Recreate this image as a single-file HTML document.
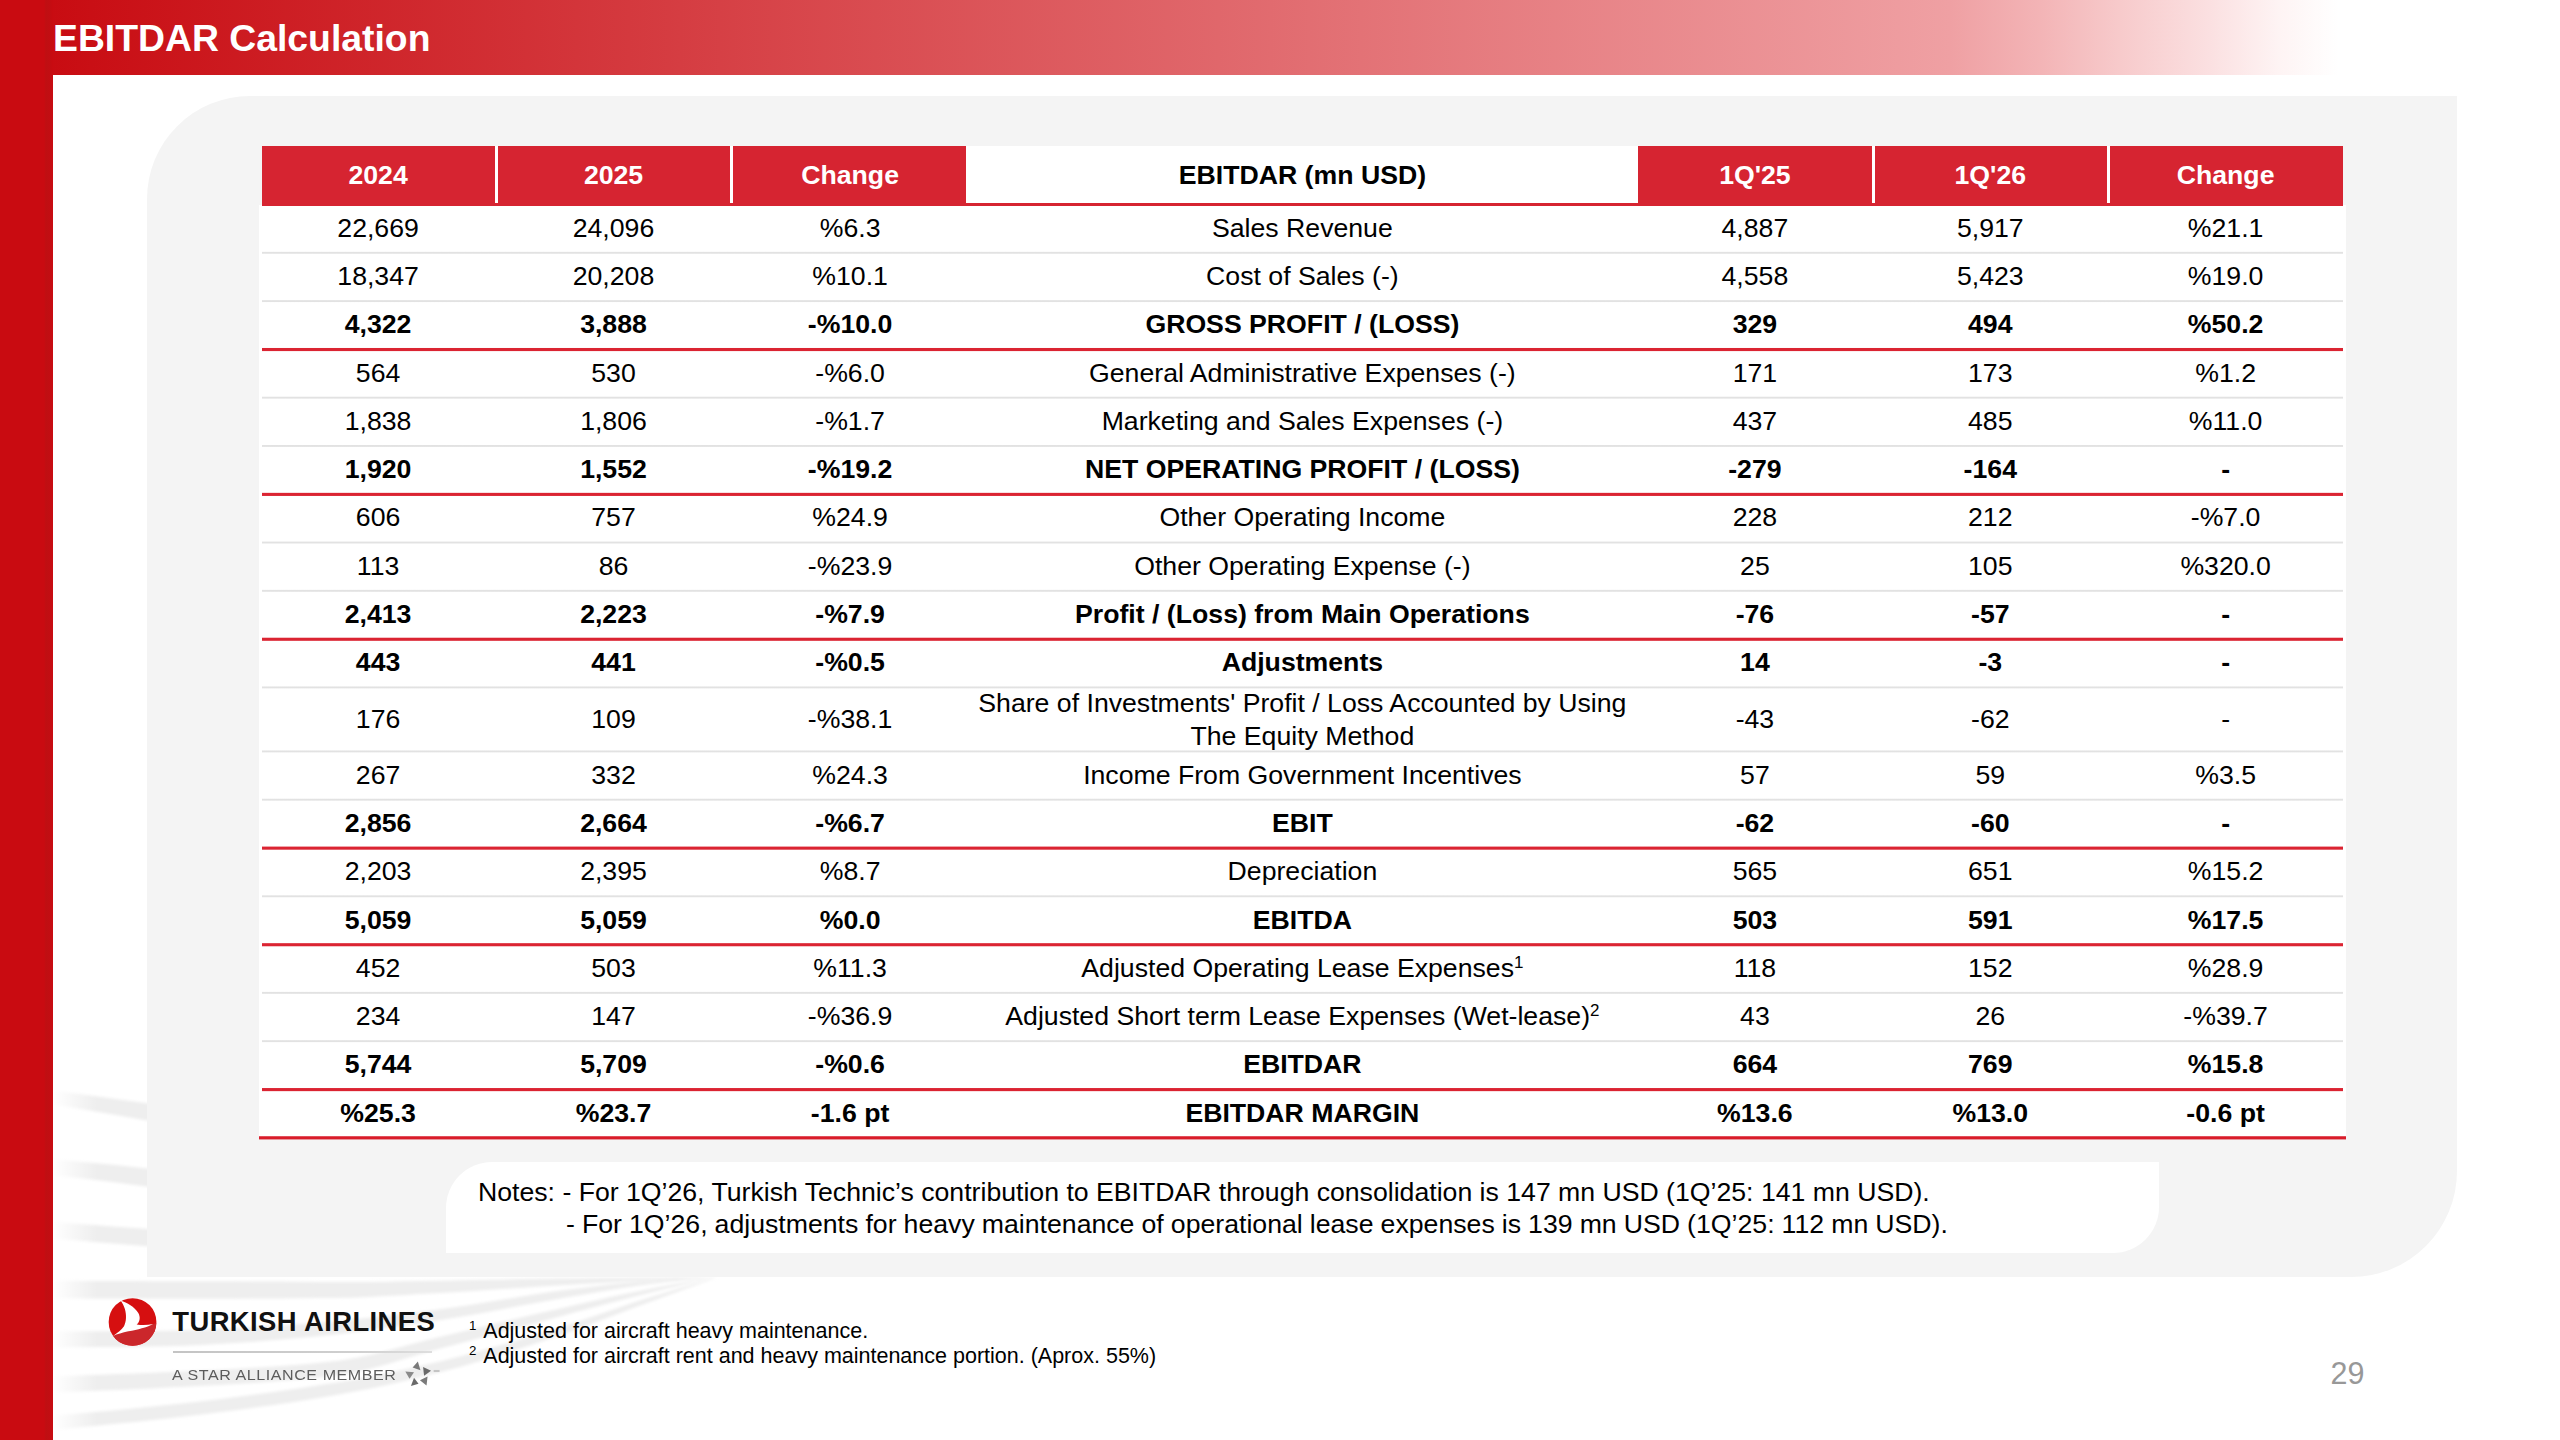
<!DOCTYPE html>
<html lang="en">
<head>
<meta charset="utf-8">
<title>EBITDAR Calculation</title>
<style>
html,body{margin:0;padding:0;}
body{width:2560px;height:1440px;overflow:hidden;background:#fff;position:relative;font-family:"Liberation Sans",sans-serif;color:#000;}
div,span{box-sizing:border-box;}
.abs{position:absolute;}
#banner{position:absolute;left:0;top:0;width:2560px;height:75.3px;background:linear-gradient(90deg,#c80b11 0px,#c80b11 40px,#efa0a3 1950px,#f3b4b6 2040px,#f7cacb 2120px,#fbe0e1 2210px,#fef4f4 2280px,#ffffff 2338px);}
#lbar{position:absolute;left:0;top:0;width:53.2px;height:1440px;background:linear-gradient(90deg,#c90b11 0,#c90b11 44px,#bf0f12 46px,#c30d12 50px,#c90b11 53px);}
#title{position:absolute;left:53px;top:15px;font-size:37.33px;font-weight:bold;color:#fff;white-space:nowrap;line-height:46px;}
#panel{position:absolute;left:147.4px;top:96.2px;width:2310px;height:1180.6px;background:#f4f4f4;border-radius:103px 0 106px 0;}
.h{position:absolute;z-index:2;top:146.2px;height:59.7px;background:#d62431;color:#fff;font-weight:bold;font-size:26.67px;line-height:58px;text-align:center;white-space:nowrap;}
.h.hw{background:#fff;color:#000;border-bottom:3.3px solid #d62431;}
.vs{position:absolute;z-index:3;top:146.2px;height:56.6px;width:3px;background:#fff;}
#tbg{position:absolute;left:259px;width:2087px;background:#fff;}
.row{position:absolute;left:0;width:2560px;font-size:26.67px;white-space:nowrap;}
.row.b{font-weight:bold;}
.c{position:absolute;top:0;height:100%;display:flex;align-items:center;justify-content:center;text-align:center;line-height:32.2px;padding-bottom:1.6px;}
.c.two{padding-bottom:0;padding-top:0.4px;}
.c sup{font-size:17px;line-height:0;position:relative;top:-5px;vertical-align:baseline;align-self:center;}
.ln{position:absolute;}
.lg{position:absolute;left:262px;width:2081px;height:1.9px;background:#dfdfdf;}
.lr{position:absolute;left:262px;width:2081px;height:3.3px;background:#d9202e;}
#notes{position:absolute;left:445.6px;top:1161.8px;width:1713.4px;height:91px;background:#fff;border-radius:46px 0 46px 0;font-size:26.67px;line-height:32.2px;white-space:nowrap;}
#notes span{position:absolute;display:block;}
#notes .n1{left:32.4px;top:14.4px;word-spacing:-0.04px;}
#notes .n2{left:120.4px;top:46.6px;word-spacing:-0.33px;}
#foot{position:absolute;left:469px;top:1318.6px;font-size:21.5px;line-height:25.65px;white-space:nowrap;}
#foot sup{font-size:13.3px;line-height:0;position:relative;top:0.1px;vertical-align:super;display:inline-block;width:9.5px;}
#pg{position:absolute;left:2330.6px;top:1355.1px;font-size:30.5px;color:#989898;line-height:36px;}
#lgt{position:absolute;left:172.3px;top:1306.3px;font-size:27.4px;font-weight:bold;line-height:32px;letter-spacing:0.42px;color:#111;white-space:nowrap;}
#lgl{position:absolute;left:172.5px;top:1350.7px;width:259.5px;height:2px;background:linear-gradient(90deg,#c4c4c4,#cfcfcf 70%,#dedede);}
#lgs{position:absolute;left:172px;top:1366.9px;font-size:14px;line-height:17px;letter-spacing:0.5px;color:#5c5c5c;white-space:nowrap;transform:scaleX(1.146);transform-origin:0 0;}
</style>
</head>
<body>
<svg id="swoosh" width="800" height="400" viewBox="0 1050 800 400" style="position:absolute;left:0;top:1050px">
<defs><filter id="bl" x="-5%" y="-5%" width="110%" height="110%"><feGaussianBlur stdDeviation="1.6"/></filter>
<linearGradient id="lf" x1="0" x2="1" y1="0" y2="0"><stop offset="0" stop-color="#fff" stop-opacity="1"/><stop offset="0.25" stop-color="#fff" stop-opacity="0.75"/><stop offset="1" stop-color="#fff" stop-opacity="0"/></linearGradient></defs>
<g fill="#eeeeee" filter="url(#bl)">
<path d="M50.0,1280.8 L66.8,1280.8 L83.6,1280.9 L100.4,1281.0 L117.2,1281.0 L134.0,1281.1 L150.8,1281.2 L167.6,1281.2 L184.4,1281.2 L201.2,1281.3 L217.9,1281.3 L234.7,1281.3 L251.5,1281.4 L268.3,1281.5 L285.1,1281.6 L301.9,1281.7 L318.7,1281.9 L335.5,1282.0 L352.3,1282.0 L369.1,1281.9 L385.9,1281.7 L402.7,1281.3 L419.5,1281.0 L436.3,1280.7 L453.1,1280.5 L469.9,1280.1 L486.7,1279.8 L503.5,1279.5 L520.3,1279.1 L537.1,1278.8 L553.8,1278.6 L570.6,1278.4 L587.4,1278.2 L604.2,1278.1 L621.0,1277.9 L637.8,1277.8 L654.6,1277.7 L671.4,1277.5 L688.2,1277.4 L705.0,1277.2 L705.0,1277.8 L688.2,1278.5 L671.4,1279.3 L654.6,1280.1 L637.8,1280.9 L621.0,1281.8 L604.2,1282.8 L587.4,1283.7 L570.6,1284.7 L553.8,1285.7 L537.1,1286.8 L520.3,1287.9 L503.5,1289.0 L486.7,1290.1 L469.9,1291.2 L453.1,1292.2 L436.3,1293.2 L419.5,1294.1 L402.7,1295.2 L385.9,1296.1 L369.1,1297.0 L352.3,1297.7 L335.5,1298.0 L318.7,1298.1 L301.9,1298.3 L285.1,1298.4 L268.3,1298.5 L251.5,1298.6 L234.7,1298.7 L217.9,1298.7 L201.2,1298.7 L184.4,1298.7 L167.6,1298.7 L150.8,1298.7 L134.0,1298.6 L117.2,1298.5 L100.4,1298.5 L83.6,1298.4 L66.8,1298.3 L50.0,1298.2Z"/>
<path d="M50.0,1331.5 L66.8,1331.4 L83.6,1331.3 L100.4,1331.2 L117.2,1331.1 L134.0,1331.0 L150.8,1330.9 L167.6,1330.7 L184.4,1330.4 L201.2,1329.8 L217.9,1329.1 L234.7,1328.2 L251.5,1327.2 L268.3,1326.1 L285.1,1325.0 L301.9,1323.9 L318.7,1322.6 L335.5,1321.2 L352.3,1319.5 L369.1,1317.8 L385.9,1315.9 L402.7,1314.0 L419.5,1311.9 L436.3,1309.8 L453.1,1307.6 L469.9,1305.0 L486.7,1302.3 L503.5,1299.5 L520.3,1296.7 L537.1,1294.0 L553.8,1291.6 L570.6,1289.3 L587.4,1287.2 L604.2,1285.1 L621.0,1283.3 L637.8,1281.7 L654.6,1280.4 L671.4,1279.3 L688.2,1278.3 L705.0,1277.2 L705.0,1277.8 L688.2,1279.7 L671.4,1281.6 L654.6,1283.6 L637.8,1285.8 L621.0,1288.3 L604.2,1291.0 L587.4,1293.9 L570.6,1296.8 L553.8,1299.7 L537.1,1302.7 L520.3,1305.8 L503.5,1309.0 L486.7,1312.2 L469.9,1315.2 L453.1,1318.1 L436.3,1320.8 L419.5,1323.3 L402.7,1325.7 L385.9,1328.1 L369.1,1330.4 L352.3,1332.5 L335.5,1334.5 L318.7,1336.3 L301.9,1337.8 L285.1,1339.2 L268.3,1340.6 L251.5,1341.9 L234.7,1343.1 L217.9,1344.1 L201.2,1345.0 L184.4,1345.7 L167.6,1346.2 L150.8,1346.5 L134.0,1346.7 L117.2,1346.9 L100.4,1347.0 L83.6,1347.2 L66.8,1347.3 L50.0,1347.5Z"/>
<path d="M50.0,1376.5 L67.0,1375.9 L83.9,1375.3 L100.9,1374.7 L117.9,1374.1 L134.9,1373.5 L151.8,1372.8 L168.8,1372.1 L185.8,1371.3 L202.8,1370.5 L219.7,1369.7 L236.7,1368.8 L253.7,1367.8 L270.7,1366.7 L287.6,1365.5 L304.6,1364.2 L321.6,1362.6 L338.6,1360.8 L355.5,1358.1 L372.5,1354.4 L389.5,1350.0 L406.5,1345.4 L423.4,1340.9 L440.4,1336.7 L457.4,1332.7 L474.4,1328.7 L491.3,1324.6 L508.3,1320.6 L525.3,1316.6 L542.3,1312.6 L559.2,1308.7 L576.2,1304.8 L593.2,1300.9 L610.2,1297.1 L627.1,1293.4 L644.1,1289.9 L661.1,1286.6 L678.1,1283.5 L695.0,1280.4 L712.0,1277.2 L712.0,1277.8 L695.0,1281.8 L678.1,1285.9 L661.1,1290.0 L644.1,1294.2 L627.1,1298.5 L610.2,1303.0 L593.2,1307.5 L576.2,1312.1 L559.2,1316.7 L542.3,1321.2 L525.3,1325.8 L508.3,1330.4 L491.3,1335.0 L474.4,1339.5 L457.4,1344.1 L440.4,1348.6 L423.4,1353.2 L406.5,1358.2 L389.5,1363.4 L372.5,1368.2 L355.5,1372.3 L338.6,1375.3 L321.6,1377.2 L304.6,1378.9 L287.6,1380.4 L270.7,1381.7 L253.7,1382.9 L236.7,1384.0 L219.7,1384.9 L202.8,1385.8 L185.8,1386.7 L168.8,1387.6 L151.8,1388.4 L134.9,1389.2 L117.9,1389.9 L100.9,1390.5 L83.9,1391.2 L67.0,1391.8 L50.0,1392.5Z"/>
<path d="M50.0,1416.0 L67.1,1414.4 L84.2,1412.9 L101.2,1411.4 L118.3,1409.9 L135.4,1408.3 L152.5,1406.6 L169.5,1404.8 L186.6,1402.9 L203.7,1400.9 L220.8,1398.9 L237.8,1396.7 L254.9,1394.5 L272.0,1392.2 L289.1,1389.8 L306.2,1387.3 L323.2,1384.6 L340.3,1381.9 L357.4,1378.9 L374.5,1375.6 L391.5,1372.2 L408.6,1368.5 L425.7,1364.7 L442.8,1360.7 L459.8,1356.4 L476.9,1351.8 L494.0,1347.1 L511.1,1342.2 L528.2,1337.1 L545.2,1331.9 L562.3,1326.7 L579.4,1321.1 L596.5,1315.3 L613.5,1309.4 L630.6,1303.6 L647.7,1298.0 L664.8,1292.7 L681.8,1287.6 L698.9,1282.4 L716.0,1277.2 L716.0,1277.8 L698.9,1284.0 L681.8,1290.2 L664.8,1296.4 L647.7,1302.7 L630.6,1309.0 L613.5,1315.5 L596.5,1322.0 L579.4,1328.4 L562.3,1334.5 L545.2,1340.3 L528.2,1345.9 L511.1,1351.5 L494.0,1356.8 L476.9,1362.0 L459.8,1366.9 L442.8,1371.5 L425.7,1375.8 L408.6,1380.0 L391.5,1383.9 L374.5,1387.7 L357.4,1391.1 L340.3,1394.3 L323.2,1397.2 L306.2,1400.0 L289.1,1402.7 L272.0,1405.2 L254.9,1407.6 L237.8,1409.9 L220.8,1412.1 L203.7,1414.2 L186.6,1416.3 L169.5,1418.2 L152.5,1420.1 L135.4,1421.9 L118.3,1423.6 L101.2,1425.2 L84.2,1426.8 L67.1,1428.4 L50.0,1430.0Z"/>
<path d="M50.0,1090.2 L72.0,1093.1 L94.0,1095.9 L116.0,1099.0 L138.0,1102.1 L160.0,1105.2 L160.0,1122.8 L138.0,1118.9 L116.0,1115.0 L94.0,1111.2 L72.0,1107.5 L50.0,1103.8Z"/>
<path d="M50.0,1159.2 L72.0,1161.1 L94.0,1162.9 L116.0,1165.1 L138.0,1167.4 L160.0,1169.8 L160.0,1188.2 L138.0,1185.4 L116.0,1182.5 L94.0,1179.8 L72.0,1177.2 L50.0,1174.8Z"/>
<path d="M50.0,1221.8 L72.0,1223.4 L94.0,1225.1 L116.0,1226.7 L138.0,1228.2 L160.0,1229.8 L160.0,1247.2 L138.0,1245.5 L116.0,1243.8 L94.0,1242.0 L72.0,1240.1 L50.0,1238.2Z"/>
</g>
<rect x="53" y="1050" width="44" height="400" fill="url(#lf)"/>
</svg>
<div id="panel"></div>
<div id="banner"></div>
<div id="lbar"></div>
<div id="title">EBITDAR Calculation</div>
<div class="h" style="left:262.0px;width:234.4px;text-indent:-2.2px">2024</div>
<div class="h" style="left:496.4px;width:235.2px;text-indent:-0.9px">2025</div>
<div class="h" style="left:731.6px;width:234.4px;text-indent:2.6px">Change</div>
<div class="h hw" style="left:966.0px;width:672.0px;text-indent:0.8px">EBITDAR (mn USD)</div>
<div class="h" style="left:1638.0px;width:235.0px;text-indent:-1.2px">1Q'25</div>
<div class="h" style="left:1873.0px;width:235.4px;text-indent:-0.8px">1Q'26</div>
<div class="h" style="left:2108.4px;width:234.6px;text-indent:-0.2px">Change</div>
<div class="vs" style="left:494.9px"></div>
<div class="vs" style="left:730.1px"></div>
<div class="vs" style="left:1871.5px"></div>
<div class="vs" style="left:2106.9px"></div>
<div id="tbg" style="top:204.80px;height:934.58px"></div>
<div class="row" style="top:204.51px;height:48.29px">
<span class="c" style="left:260.9px;width:234.4px">22,669</span>
<span class="c" style="left:495.9px;width:235.2px">24,096</span>
<span class="c" style="left:732.9px;width:234.4px">%6.3</span>
<span class="c" style="left:966.4px;width:672.0px">Sales Revenue</span>
<span class="c" style="left:1637.4px;width:235.0px">4,887</span>
<span class="c" style="left:1872.6px;width:235.4px">5,917</span>
<span class="c" style="left:2108.3px;width:234.6px">%21.1</span>
</div>
<div class="ln" style="top:251px;height:3px;left:262px;width:2081px;background:linear-gradient(180deg,rgba(226,226,226,0.150) 0px,rgba(226,226,226,0.150) 1px,rgba(226,226,226,1.000) 1px,rgba(226,226,226,1.000) 2px,rgba(226,226,226,0.750) 2px,rgba(226,226,226,0.750) 3px)"></div>
<div class="row" style="top:252.80px;height:48.29px">
<span class="c" style="left:260.9px;width:234.4px">18,347</span>
<span class="c" style="left:495.9px;width:235.2px">20,208</span>
<span class="c" style="left:732.9px;width:234.4px">%10.1</span>
<span class="c" style="left:966.4px;width:672.0px">Cost of Sales (-)</span>
<span class="c" style="left:1637.4px;width:235.0px">4,558</span>
<span class="c" style="left:1872.6px;width:235.4px">5,423</span>
<span class="c" style="left:2108.3px;width:234.6px">%19.0</span>
</div>
<div class="ln" style="top:300px;height:3px;left:262px;width:2081px;background:linear-gradient(180deg,rgba(226,226,226,0.860) 0px,rgba(226,226,226,0.860) 1px,rgba(226,226,226,1.000) 1px,rgba(226,226,226,1.000) 2px,rgba(226,226,226,0.040) 2px,rgba(226,226,226,0.040) 3px)"></div>
<div class="row b" style="top:301.09px;height:48.29px">
<span class="c" style="left:260.9px;width:234.4px">4,322</span>
<span class="c" style="left:495.9px;width:235.2px">3,888</span>
<span class="c" style="left:732.9px;width:234.4px">-%10.0</span>
<span class="c" style="left:966.4px;width:672.0px">GROSS PROFIT / (LOSS)</span>
<span class="c" style="left:1637.4px;width:235.0px">329</span>
<span class="c" style="left:1872.6px;width:235.4px">494</span>
<span class="c" style="left:2108.3px;width:234.6px">%50.2</span>
</div>
<div class="ln" style="top:347px;height:5px;left:262px;width:2081px;background:linear-gradient(180deg,rgba(219,36,50,0.020) 0px,rgba(219,36,50,0.020) 1px,rgba(219,36,50,1.000) 1px,rgba(219,36,50,1.000) 2px,rgba(219,36,50,1.000) 2px,rgba(219,36,50,1.000) 3px,rgba(219,36,50,1.000) 3px,rgba(219,36,50,1.000) 4px,rgba(219,36,50,0.080) 4px,rgba(219,36,50,0.080) 5px)"></div>
<div class="row" style="top:349.38px;height:48.29px">
<span class="c" style="left:260.9px;width:234.4px">564</span>
<span class="c" style="left:495.9px;width:235.2px">530</span>
<span class="c" style="left:732.9px;width:234.4px">-%6.0</span>
<span class="c" style="left:966.4px;width:672.0px">General Administrative Expenses (-)</span>
<span class="c" style="left:1637.4px;width:235.0px">171</span>
<span class="c" style="left:1872.6px;width:235.4px">173</span>
<span class="c" style="left:2108.3px;width:234.6px">%1.2</span>
</div>
<div class="ln" style="top:396px;height:3px;left:262px;width:2081px;background:linear-gradient(180deg,rgba(226,226,226,0.280) 0px,rgba(226,226,226,0.280) 1px,rgba(226,226,226,1.000) 1px,rgba(226,226,226,1.000) 2px,rgba(226,226,226,0.620) 2px,rgba(226,226,226,0.620) 3px)"></div>
<div class="row" style="top:397.67px;height:48.29px">
<span class="c" style="left:260.9px;width:234.4px">1,838</span>
<span class="c" style="left:495.9px;width:235.2px">1,806</span>
<span class="c" style="left:732.9px;width:234.4px">-%1.7</span>
<span class="c" style="left:966.4px;width:672.0px">Marketing and Sales Expenses (-)</span>
<span class="c" style="left:1637.4px;width:235.0px">437</span>
<span class="c" style="left:1872.6px;width:235.4px">485</span>
<span class="c" style="left:2108.3px;width:234.6px">%11.0</span>
</div>
<div class="ln" style="top:445px;height:2px;left:262px;width:2081px;background:linear-gradient(180deg,rgba(226,226,226,0.990) 0px,rgba(226,226,226,0.990) 1px,rgba(226,226,226,0.910) 1px,rgba(226,226,226,0.910) 2px)"></div>
<div class="row b" style="top:445.96px;height:48.29px">
<span class="c" style="left:260.9px;width:234.4px">1,920</span>
<span class="c" style="left:495.9px;width:235.2px">1,552</span>
<span class="c" style="left:732.9px;width:234.4px">-%19.2</span>
<span class="c" style="left:966.4px;width:672.0px">NET OPERATING PROFIT / (LOSS)</span>
<span class="c" style="left:1637.4px;width:235.0px">-279</span>
<span class="c" style="left:1872.6px;width:235.4px">-164</span>
<span class="c" style="left:2108.3px;width:234.6px">-</span>
</div>
<div class="ln" style="top:492px;height:4px;left:262px;width:2081px;background:linear-gradient(180deg,rgba(219,36,50,0.150) 0px,rgba(219,36,50,0.150) 1px,rgba(219,36,50,1.000) 1px,rgba(219,36,50,1.000) 2px,rgba(219,36,50,1.000) 2px,rgba(219,36,50,1.000) 3px,rgba(219,36,50,0.950) 3px,rgba(219,36,50,0.950) 4px)"></div>
<div class="row" style="top:494.25px;height:48.29px">
<span class="c" style="left:260.9px;width:234.4px">606</span>
<span class="c" style="left:495.9px;width:235.2px">757</span>
<span class="c" style="left:732.9px;width:234.4px">%24.9</span>
<span class="c" style="left:966.4px;width:672.0px">Other Operating Income</span>
<span class="c" style="left:1637.4px;width:235.0px">228</span>
<span class="c" style="left:1872.6px;width:235.4px">212</span>
<span class="c" style="left:2108.3px;width:234.6px">-%7.0</span>
</div>
<div class="ln" style="top:541px;height:3px;left:262px;width:2081px;background:linear-gradient(180deg,rgba(226,226,226,0.410) 0px,rgba(226,226,226,0.410) 1px,rgba(226,226,226,1.000) 1px,rgba(226,226,226,1.000) 2px,rgba(226,226,226,0.490) 2px,rgba(226,226,226,0.490) 3px)"></div>
<div class="row" style="top:542.54px;height:48.29px">
<span class="c" style="left:260.9px;width:234.4px">113</span>
<span class="c" style="left:495.9px;width:235.2px">86</span>
<span class="c" style="left:732.9px;width:234.4px">-%23.9</span>
<span class="c" style="left:966.4px;width:672.0px">Other Operating Expense (-)</span>
<span class="c" style="left:1637.4px;width:235.0px">25</span>
<span class="c" style="left:1872.6px;width:235.4px">105</span>
<span class="c" style="left:2108.3px;width:234.6px">%320.0</span>
</div>
<div class="ln" style="top:589px;height:3px;left:262px;width:2081px;background:linear-gradient(180deg,rgba(226,226,226,0.120) 0px,rgba(226,226,226,0.120) 1px,rgba(226,226,226,1.000) 1px,rgba(226,226,226,1.000) 2px,rgba(226,226,226,0.780) 2px,rgba(226,226,226,0.780) 3px)"></div>
<div class="row b" style="top:590.83px;height:48.29px">
<span class="c" style="left:260.9px;width:234.4px">2,413</span>
<span class="c" style="left:495.9px;width:235.2px">2,223</span>
<span class="c" style="left:732.9px;width:234.4px">-%7.9</span>
<span class="c" style="left:966.4px;width:672.0px">Profit / (Loss) from Main Operations</span>
<span class="c" style="left:1637.4px;width:235.0px">-76</span>
<span class="c" style="left:1872.6px;width:235.4px">-57</span>
<span class="c" style="left:2108.3px;width:234.6px">-</span>
</div>
<div class="ln" style="top:637px;height:4px;left:262px;width:2081px;background:linear-gradient(180deg,rgba(219,36,50,0.280) 0px,rgba(219,36,50,0.280) 1px,rgba(219,36,50,1.000) 1px,rgba(219,36,50,1.000) 2px,rgba(219,36,50,1.000) 2px,rgba(219,36,50,1.000) 3px,rgba(219,36,50,0.820) 3px,rgba(219,36,50,0.820) 4px)"></div>
<div class="row b" style="top:639.12px;height:48.29px">
<span class="c" style="left:260.9px;width:234.4px">443</span>
<span class="c" style="left:495.9px;width:235.2px">441</span>
<span class="c" style="left:732.9px;width:234.4px">-%0.5</span>
<span class="c" style="left:966.4px;width:672.0px">Adjustments</span>
<span class="c" style="left:1637.4px;width:235.0px">14</span>
<span class="c" style="left:1872.6px;width:235.4px">-3</span>
<span class="c" style="left:2108.3px;width:234.6px">-</span>
</div>
<div class="ln" style="top:686px;height:3px;left:262px;width:2081px;background:linear-gradient(180deg,rgba(226,226,226,0.540) 0px,rgba(226,226,226,0.540) 1px,rgba(226,226,226,1.000) 1px,rgba(226,226,226,1.000) 2px,rgba(226,226,226,0.360) 2px,rgba(226,226,226,0.360) 3px)"></div>
<div class="row" style="top:687.41px;height:64.00px">
<span class="c" style="left:260.9px;width:234.4px">176</span>
<span class="c" style="left:495.9px;width:235.2px">109</span>
<span class="c" style="left:732.9px;width:234.4px">-%38.1</span>
<span class="c two" style="left:966.4px;width:672.0px">Share of Investments' Profit / Loss Accounted by Using<br>The Equity Method</span>
<span class="c" style="left:1637.4px;width:235.0px">-43</span>
<span class="c" style="left:1872.6px;width:235.4px">-62</span>
<span class="c" style="left:2108.3px;width:234.6px">-</span>
</div>
<div class="ln" style="top:750px;height:3px;left:262px;width:2081px;background:linear-gradient(180deg,rgba(226,226,226,0.540) 0px,rgba(226,226,226,0.540) 1px,rgba(226,226,226,1.000) 1px,rgba(226,226,226,1.000) 2px,rgba(226,226,226,0.360) 2px,rgba(226,226,226,0.360) 3px)"></div>
<div class="row" style="top:751.41px;height:48.29px">
<span class="c" style="left:260.9px;width:234.4px">267</span>
<span class="c" style="left:495.9px;width:235.2px">332</span>
<span class="c" style="left:732.9px;width:234.4px">%24.3</span>
<span class="c" style="left:966.4px;width:672.0px">Income From Government Incentives</span>
<span class="c" style="left:1637.4px;width:235.0px">57</span>
<span class="c" style="left:1872.6px;width:235.4px">59</span>
<span class="c" style="left:2108.3px;width:234.6px">%3.5</span>
</div>
<div class="ln" style="top:798px;height:3px;left:262px;width:2081px;background:linear-gradient(180deg,rgba(226,226,226,0.250) 0px,rgba(226,226,226,0.250) 1px,rgba(226,226,226,1.000) 1px,rgba(226,226,226,1.000) 2px,rgba(226,226,226,0.650) 2px,rgba(226,226,226,0.650) 3px)"></div>
<div class="row b" style="top:799.70px;height:48.29px">
<span class="c" style="left:260.9px;width:234.4px">2,856</span>
<span class="c" style="left:495.9px;width:235.2px">2,664</span>
<span class="c" style="left:732.9px;width:234.4px">-%6.7</span>
<span class="c" style="left:966.4px;width:672.0px">EBIT</span>
<span class="c" style="left:1637.4px;width:235.0px">-62</span>
<span class="c" style="left:1872.6px;width:235.4px">-60</span>
<span class="c" style="left:2108.3px;width:234.6px">-</span>
</div>
<div class="ln" style="top:846px;height:4px;left:262px;width:2081px;background:linear-gradient(180deg,rgba(219,36,50,0.410) 0px,rgba(219,36,50,0.410) 1px,rgba(219,36,50,1.000) 1px,rgba(219,36,50,1.000) 2px,rgba(219,36,50,1.000) 2px,rgba(219,36,50,1.000) 3px,rgba(219,36,50,0.690) 3px,rgba(219,36,50,0.690) 4px)"></div>
<div class="row" style="top:847.99px;height:48.29px">
<span class="c" style="left:260.9px;width:234.4px">2,203</span>
<span class="c" style="left:495.9px;width:235.2px">2,395</span>
<span class="c" style="left:732.9px;width:234.4px">%8.7</span>
<span class="c" style="left:966.4px;width:672.0px">Depreciation</span>
<span class="c" style="left:1637.4px;width:235.0px">565</span>
<span class="c" style="left:1872.6px;width:235.4px">651</span>
<span class="c" style="left:2108.3px;width:234.6px">%15.2</span>
</div>
<div class="ln" style="top:895px;height:3px;left:262px;width:2081px;background:linear-gradient(180deg,rgba(226,226,226,0.670) 0px,rgba(226,226,226,0.670) 1px,rgba(226,226,226,1.000) 1px,rgba(226,226,226,1.000) 2px,rgba(226,226,226,0.230) 2px,rgba(226,226,226,0.230) 3px)"></div>
<div class="row b" style="top:896.28px;height:48.29px">
<span class="c" style="left:260.9px;width:234.4px">5,059</span>
<span class="c" style="left:495.9px;width:235.2px">5,059</span>
<span class="c" style="left:732.9px;width:234.4px">%0.0</span>
<span class="c" style="left:966.4px;width:672.0px">EBITDA</span>
<span class="c" style="left:1637.4px;width:235.0px">503</span>
<span class="c" style="left:1872.6px;width:235.4px">591</span>
<span class="c" style="left:2108.3px;width:234.6px">%17.5</span>
</div>
<div class="ln" style="top:943px;height:4px;left:262px;width:2081px;background:linear-gradient(180deg,rgba(219,36,50,0.830) 0px,rgba(219,36,50,0.830) 1px,rgba(219,36,50,1.000) 1px,rgba(219,36,50,1.000) 2px,rgba(219,36,50,1.000) 2px,rgba(219,36,50,1.000) 3px,rgba(219,36,50,0.270) 3px,rgba(219,36,50,0.270) 4px)"></div>
<div class="row" style="top:944.57px;height:48.29px">
<span class="c" style="left:260.9px;width:234.4px">452</span>
<span class="c" style="left:495.9px;width:235.2px">503</span>
<span class="c" style="left:732.9px;width:234.4px">%11.3</span>
<span class="c" style="left:966.4px;width:672.0px">Adjusted Operating Lease Expenses<sup>1</sup></span>
<span class="c" style="left:1637.4px;width:235.0px">118</span>
<span class="c" style="left:1872.6px;width:235.4px">152</span>
<span class="c" style="left:2108.3px;width:234.6px">%28.9</span>
</div>
<div class="ln" style="top:991px;height:3px;left:262px;width:2081px;background:linear-gradient(180deg,rgba(226,226,226,0.090) 0px,rgba(226,226,226,0.090) 1px,rgba(226,226,226,1.000) 1px,rgba(226,226,226,1.000) 2px,rgba(226,226,226,0.810) 2px,rgba(226,226,226,0.810) 3px)"></div>
<div class="row" style="top:992.86px;height:48.29px">
<span class="c" style="left:260.9px;width:234.4px">234</span>
<span class="c" style="left:495.9px;width:235.2px">147</span>
<span class="c" style="left:732.9px;width:234.4px">-%36.9</span>
<span class="c" style="left:966.4px;width:672.0px">Adjusted Short term Lease Expenses (Wet-lease)<sup>2</sup></span>
<span class="c" style="left:1637.4px;width:235.0px">43</span>
<span class="c" style="left:1872.6px;width:235.4px">26</span>
<span class="c" style="left:2108.3px;width:234.6px">-%39.7</span>
</div>
<div class="ln" style="top:1040px;height:3px;left:262px;width:2081px;background:linear-gradient(180deg,rgba(226,226,226,0.800) 0px,rgba(226,226,226,0.800) 1px,rgba(226,226,226,1.000) 1px,rgba(226,226,226,1.000) 2px,rgba(226,226,226,0.100) 2px,rgba(226,226,226,0.100) 3px)"></div>
<div class="row b" style="top:1041.15px;height:48.29px">
<span class="c" style="left:260.9px;width:234.4px">5,744</span>
<span class="c" style="left:495.9px;width:235.2px">5,709</span>
<span class="c" style="left:732.9px;width:234.4px">-%0.6</span>
<span class="c" style="left:966.4px;width:672.0px">EBITDAR</span>
<span class="c" style="left:1637.4px;width:235.0px">664</span>
<span class="c" style="left:1872.6px;width:235.4px">769</span>
<span class="c" style="left:2108.3px;width:234.6px">%15.8</span>
</div>
<div class="ln" style="top:1088px;height:4px;left:262px;width:2081px;background:linear-gradient(180deg,rgba(219,36,50,0.960) 0px,rgba(219,36,50,0.960) 1px,rgba(219,36,50,1.000) 1px,rgba(219,36,50,1.000) 2px,rgba(219,36,50,1.000) 2px,rgba(219,36,50,1.000) 3px,rgba(219,36,50,0.140) 3px,rgba(219,36,50,0.140) 4px)"></div>
<div class="row b" style="top:1089.44px;height:48.29px">
<span class="c" style="left:260.9px;width:234.4px">%25.3</span>
<span class="c" style="left:495.9px;width:235.2px">%23.7</span>
<span class="c" style="left:732.9px;width:234.4px">-1.6 pt</span>
<span class="c" style="left:966.4px;width:672.0px">EBITDAR MARGIN</span>
<span class="c" style="left:1637.4px;width:235.0px">%13.6</span>
<span class="c" style="left:1872.6px;width:235.4px">%13.0</span>
<span class="c" style="left:2108.3px;width:234.6px">-0.6 pt</span>
</div>
<div class="ln" style="top:1136px;height:4px;left:259px;width:2087px;background:linear-gradient(180deg,rgba(217,28,42,0.770) 0px,rgba(217,28,42,0.770) 1px,rgba(217,28,42,1.000) 1px,rgba(217,28,42,1.000) 2px,rgba(217,28,42,1.000) 2px,rgba(217,28,42,1.000) 3px,rgba(217,28,42,0.430) 3px,rgba(217,28,42,0.430) 4px)"></div>
<div id="notes"><span class="n1">Notes: - For 1Q’26, Turkish Technic’s contribution to EBITDAR through consolidation is 147 mn USD (1Q’25: 141 mn USD).</span><span class="n2">- For 1Q’26, adjustments for heavy maintenance of operational lease expenses is 139 mn USD (1Q’25: 112 mn USD).</span></div>
<div id="foot"><sup>1</sup> Adjusted for aircraft heavy maintenance.<br><sup>2</sup> Adjusted for aircraft rent and heavy maintenance portion. (Aprox. 55%)</div>
<div id="pg">29</div>
<svg id="lgc" width="70" height="64" viewBox="0 0 1575 1440" style="position:absolute;left:100px;top:1290px">
<defs><clipPath id="cc"><circle cx="732" cy="720" r="537"/></clipPath></defs>
<circle cx="732" cy="720" r="537" fill="#d60f10"/>
<path clip-path="url(#cc)" fill="#cb272b" d="M300,1030 C390,990 500,950 640,920 C850,880 1050,840 1190,770 L1400,700 L1400,1400 L100,1400 Z"/>
<path fill="#fff" d="M465,235 C610,285 775,375 862,515 C915,610 900,715 825,775 C950,795 1080,788 1195,765 C1050,845 850,888 640,930 C500,958 390,995 295,1035 C395,960 490,895 540,815 C595,715 598,560 560,430 C538,350 505,290 465,235 Z"/>
</svg>
<div id="lgt">TURKISH AIRLINES</div>
<div id="lgl"></div>
<div id="lgs">A STAR ALLIANCE MEMBER</div>
<svg id="star" width="70" height="50" viewBox="0 0 2016 1440" style="position:absolute;left:380px;top:1350px">
<g fill="#7a7a7a"><path d="M1090,330 L940,505 L1165,585Z"/><path d="M1240,490 L1470,600 L1270,740Z" fill="#6a6a6a"/><path d="M1370,760 L1340,1020 L1150,870Z"/><path d="M980,800 L1110,970 L890,1040Z" fill="#6a6a6a"/><path d="M730,620 L980,640 L850,830Z" fill="#8a8a8a"/></g>
<rect x="1545" y="575" width="170" height="60" fill="#c4c4c4"/>
</svg>
</body>
</html>
